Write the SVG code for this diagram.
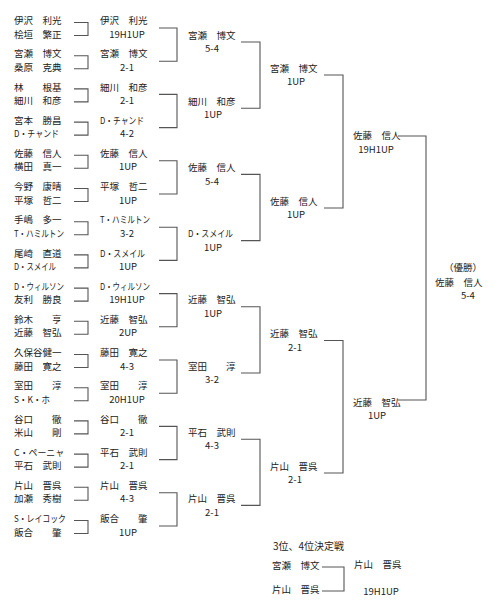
<svg xmlns="http://www.w3.org/2000/svg" width="502" height="600" viewBox="0 0 502 600">
<style>
text{font-family:"Noto Sans CJK JP","Noto Sans",sans-serif;font-size:9.5px;fill:#222}
.s{text-anchor:middle}
.e{text-anchor:end}
.h{font-size:10px}
#connectors path{fill:none;stroke:#555;stroke-width:1.1}
</style>
<rect width="502" height="600" fill="#fff"/>
<g id="connectors">
<path d="M74,22.5H88V35.5H74"/>
<path d="M74,55.7H88V68.7H74"/>
<path d="M74,88.9H88V101.9H74"/>
<path d="M74,122.1H88V135.1H74"/>
<path d="M74,155.3H88V168.3H74"/>
<path d="M74,188.5H88V201.5H74"/>
<path d="M74,221.7H88V234.7H74"/>
<path d="M74,254.9H88V267.9H74"/>
<path d="M74,288.1H88V301.1H74"/>
<path d="M74,321.3H88V334.3H74"/>
<path d="M74,354.5H88V367.5H74"/>
<path d="M74,387.7H88V400.7H74"/>
<path d="M74,420.9H88V433.9H74"/>
<path d="M74,454.1H88V467.1H74"/>
<path d="M74,487.3H88V500.3H74"/>
<path d="M74,520.5H88V533.5H74"/>
<path d="M159,28H177V61.2H159"/>
<path d="M159,94.4H177V127.6H159"/>
<path d="M159,160.8H177V194H159"/>
<path d="M159,227.2H177V260.4H159"/>
<path d="M159,293.6H177V326.8H159"/>
<path d="M159,360H177V393.2H159"/>
<path d="M159,426.4H177V459.6H159"/>
<path d="M159,492.8H177V526H159"/>
<path d="M241,42H260V108.2H241"/>
<path d="M241,174.4H260V240.6H241"/>
<path d="M241,306.8H260V373H241"/>
<path d="M241,439.2H260V505.4H241"/>
<path d="M324,75H343V208H324"/>
<path d="M324,340.5H343V473H324"/>
<path d="M398,136H426V400H398"/>
<path d="M322,567H344V591H322"/>
</g>
<g id="round1">
<g id="p0"><text x="14" y="24.1">伊沢　利光</text><text x="14" y="37.6">桧垣　繁正</text></g>
<g id="p1"><text x="14" y="57.3">宮瀬　博文</text><text x="14" y="70.8">桑原　克典</text></g>
<g id="p2"><text x="14" y="90.5">林　　根基</text><text x="14" y="104">細川　和彦</text></g>
<g id="p3"><text x="14" y="123.7">宮本　勝昌</text><text x="14" y="137.2" textLength="45" lengthAdjust="spacingAndGlyphs">D・チャンド</text></g>
<g id="p4"><text x="14" y="156.9">佐藤　信人</text><text x="14" y="170.4">横田　真一</text></g>
<g id="p5"><text x="14" y="190.1">今野　康晴</text><text x="14" y="203.6">平塚　哲二</text></g>
<g id="p6"><text x="14" y="223.3">手嶋　多一</text><text x="14" y="236.8" textLength="50" lengthAdjust="spacingAndGlyphs">T・ハミルトン</text></g>
<g id="p7"><text x="14" y="256.5">尾崎　直道</text><text x="14" y="270" textLength="42" lengthAdjust="spacingAndGlyphs">D・スメイル</text></g>
<g id="p8"><text x="14" y="289.7" textLength="50" lengthAdjust="spacingAndGlyphs">D・ウィルソン</text><text x="14" y="303.2">友利　勝良</text></g>
<g id="p9"><text x="14" y="322.9">鈴木　　亨</text><text x="14" y="336.4">近藤　智弘</text></g>
<g id="p10"><text x="14" y="356.1">久保谷健一</text><text x="14" y="369.6">藤田　寛之</text></g>
<g id="p11"><text x="14" y="389.3">室田　　淳</text><text x="14" y="402.8" textLength="36" lengthAdjust="spacingAndGlyphs">S・K・ホ</text></g>
<g id="p12"><text x="14" y="422.5">谷口　　徹</text><text x="14" y="436">米山　　剛</text></g>
<g id="p13"><text x="14" y="455.7" textLength="50" lengthAdjust="spacingAndGlyphs">C・ペーニャ</text><text x="14" y="469.2">平石　武則</text></g>
<g id="p14"><text x="14" y="488.9">片山　晋呉</text><text x="14" y="502.4">加瀬　秀樹</text></g>
<g id="p15"><text x="14" y="522.1" textLength="52" lengthAdjust="spacingAndGlyphs">S・レイコック</text><text x="14" y="535.6">飯合　　肇</text></g>
</g>
<g id="round2">
<g id="w0"><text x="100" y="24.1">伊沢　利光</text><text class="s" x="127" y="37.6">19H1UP</text></g>
<g id="w1"><text x="100" y="57.3">宮瀬　博文</text><text class="s" x="127" y="70.8">2-1</text></g>
<g id="w2"><text x="100" y="90.5">細川　和彦</text><text class="s" x="127" y="104">2-1</text></g>
<g id="w3"><text x="100" y="123.7" textLength="44" lengthAdjust="spacingAndGlyphs">D・チャンド</text><text class="s" x="127" y="137.2">4-2</text></g>
<g id="w4"><text x="100" y="156.9">佐藤　信人</text><text class="s" x="128" y="170.4">1UP</text></g>
<g id="w5"><text x="100" y="190.1">平塚　哲二</text><text class="s" x="128" y="203.6">1UP</text></g>
<g id="w6"><text x="100" y="223.3" textLength="50" lengthAdjust="spacingAndGlyphs">T・ハミルトン</text><text class="s" x="127" y="236.8">3-2</text></g>
<g id="w7"><text x="100" y="256.5" textLength="45" lengthAdjust="spacingAndGlyphs">D・スメイル</text><text class="s" x="128" y="270">1UP</text></g>
<g id="w8"><text x="100" y="289.7" textLength="50" lengthAdjust="spacingAndGlyphs">D・ウィルソン</text><text class="s" x="127" y="303.2">19H1UP</text></g>
<g id="w9"><text x="100" y="322.9">近藤　智弘</text><text class="s" x="128" y="336.4">2UP</text></g>
<g id="w10"><text x="100" y="356.1">藤田　寛之</text><text class="s" x="127" y="369.6">4-3</text></g>
<g id="w11"><text x="100" y="389.3">室田　　淳</text><text class="s" x="127" y="402.8">20H1UP</text></g>
<g id="w12"><text x="100" y="422.5">谷口　　徹</text><text class="s" x="127" y="436">2-1</text></g>
<g id="w13"><text x="100" y="455.7">平石　武則</text><text class="s" x="127" y="469.2">2-1</text></g>
<g id="w14"><text x="100" y="488.9">片山　晋呉</text><text class="s" x="127" y="502.4">4-3</text></g>
<g id="w15"><text x="100" y="522.1">飯合　　肇</text><text class="s" x="128" y="535.6">1UP</text></g>
</g>
<g id="round3">
<g id="q0"><text x="188" y="38.6">宮瀬　博文</text><text class="s" x="212" y="52.1">5-4</text></g>
<g id="q1"><text x="188" y="104.8">細川　和彦</text><text class="s" x="213" y="118.3">1UP</text></g>
<g id="q2"><text x="188" y="171">佐藤　信人</text><text class="s" x="212" y="184.5">5-4</text></g>
<g id="q3"><text x="188" y="237.2" textLength="45" lengthAdjust="spacingAndGlyphs">D・スメイル</text><text class="s" x="213" y="250.7">1UP</text></g>
<g id="q4"><text x="188" y="303.4">近藤　智弘</text><text class="s" x="213" y="316.9">1UP</text></g>
<g id="q5"><text x="188" y="369.6">室田　　淳</text><text class="s" x="212" y="383.1">3-2</text></g>
<g id="q6"><text x="188" y="435.8">平石　武則</text><text class="s" x="212" y="449.3">4-3</text></g>
<g id="q7"><text x="188" y="502">片山　晋呉</text><text class="s" x="212" y="515.5">2-1</text></g>
</g>
<g id="round4">
<g id="sf0"><text x="270" y="71.6">宮瀬　博文</text><text class="s" x="296" y="85.1">1UP</text></g>
<g id="sf1"><text x="270" y="204.6">佐藤　信人</text><text class="s" x="296" y="218.1">1UP</text></g>
<g id="sf2"><text x="270" y="337.1">近藤　智弘</text><text class="s" x="295" y="350.6">2-1</text></g>
<g id="sf3"><text x="270" y="469.6">片山　晋呉</text><text class="s" x="295" y="483.1">2-1</text></g>
</g>
<g id="round5">
<g id="f0"><text x="353" y="138.6">佐藤　信人</text><text class="s" x="376" y="152.6">19H1UP</text></g>
<g id="f1"><text x="353" y="405.6">近藤　智弘</text><text class="s" x="377" y="418.6">1UP</text></g>
</g>
<g id="champion"><text class="e" x="482" y="270.6">（優勝）</text><text x="435" y="285.6">佐藤　信人</text><text x="461" y="298.6">5-4</text></g>
<g id="third-place">
<text class="h" x="273" y="549.6">3位、4位決定戦</text>
<g id="tp0"><text x="272" y="569.1">宮瀬　博文</text></g>
<g id="tp1"><text x="272" y="592.6">片山　晋呉</text></g>
<g id="tpw"><text x="354" y="567.6">片山　晋呉</text><text class="s" x="381" y="594.6">19H1UP</text></g>
</g>
</svg>
